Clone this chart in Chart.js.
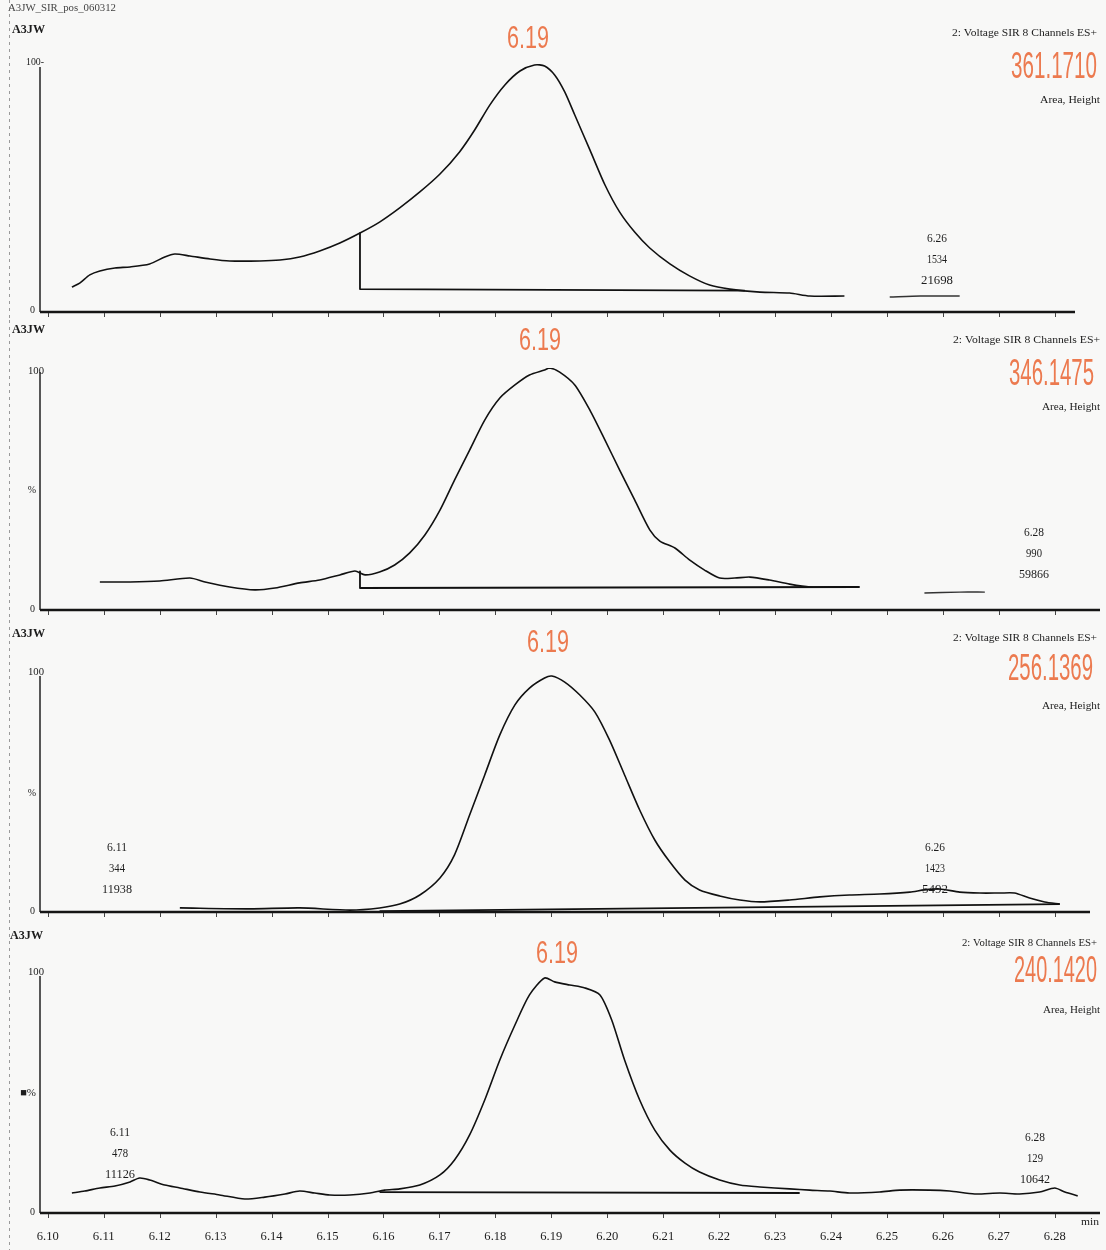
<!DOCTYPE html>
<html><head><meta charset="utf-8">
<script src="https://cdn.jsdelivr.net/npm/chart.js@4.4.1/dist/chart.umd.min.js"></script>
<style>
html,body{margin:0;padding:0;background:#f8f8f7;}
#wrap{position:relative;width:1106px;height:1250px;overflow:hidden;background:#f8f8f7;}
canvas{position:absolute;left:0;}
</style></head><body><div id="wrap">
<canvas id="c1" width="1106" height="322" style="top:0px"></canvas>
<canvas id="c2" width="1106" height="300" style="top:320px"></canvas>
<canvas id="c3" width="1106" height="300" style="top:620px"></canvas>
<canvas id="c4" width="1106" height="330" style="top:920px"></canvas>
</div>
<script>
// ---------- DATA ----------
const xTickLabels = ['6.10','6.11','6.12','6.13','6.14','6.15','6.16','6.17','6.18','6.19','6.20','6.21','6.22','6.23','6.24','6.25','6.26','6.27','6.28'];
const massLabels = ['361.1710','346.1475','256.1369','240.1420'];
const peakLabel = '6.19';
const channelTitle = '2: Voltage SIR 8 Channels ES+';

// Panel 1 : 361.1710
const p1Time = [6.1043,6.1057,6.1075,6.1093,6.1120,6.1147,6.1182,6.1209,6.1227,6.1254,6.1290,6.1325,6.1379,6.1415,6.1450,6.1486,6.1522,6.1558,6.1593,6.1629,6.1665,6.1701,6.1736,6.1763,6.1790,6.1817,6.1844,6.1870,6.1888,6.1906,6.1924,6.1942,6.1969,6.1996,6.2022,6.2049,6.2076,6.2112,6.2147,6.2183,6.2219,6.2273,6.2326,6.2362,6.2424];
const p1Intensity = [10.0,11.6,14.9,16.5,17.7,18.1,19.3,22.1,23.3,22.5,21.3,20.5,20.5,20.9,22.1,24.5,27.7,31.7,36.1,41.8,48.2,55.4,64.3,73.1,83.1,91.2,96.8,99.2,98.8,95.2,88.4,79.1,65.1,51.0,40.2,32.1,25.7,19.3,14.5,10.8,9.2,8.0,7.6,6.4,6.4];
const p1TailTime = [6.2505,6.2560,6.2630];
const p1TailIntensity = [6.0,6.4,6.4];
const p1BaseTime = [6.1558,6.1558,6.2246];
const p1BaseIntensity = [31.7,9.2,8.6];
const p1Peak2 = ['6.26','1534','21698'];

// Panel 2 : 346.1475
const p2Time = [6.1093,6.1147,6.1200,6.1254,6.1281,6.1325,6.1370,6.1406,6.1450,6.1486,6.1522,6.1549,6.1567,6.1593,6.1620,6.1647,6.1674,6.1701,6.1727,6.1754,6.1781,6.1808,6.1835,6.1861,6.1888,6.1897,6.1915,6.1942,6.1969,6.1996,6.2022,6.2049,6.2076,6.2094,6.2121,6.2147,6.2174,6.2201,6.2228,6.2255,6.2290,6.2326,6.2362,6.2416,6.2451];
const p2Intensity = [11.6,11.6,12.0,13.2,11.6,9.5,8.3,9.1,11.2,12.4,14.5,16.1,14.5,15.7,18.6,23.6,31.0,41.3,53.7,66.1,78.5,87.6,93.0,97.1,99.2,100,98.3,93.0,82.6,70.2,57.9,45.5,33.1,28.5,25.6,20.7,16.5,13.2,13.2,13.6,12.4,10.7,9.5,9.5,9.5];
const p2TailTime = [6.2567,6.2630,6.2675];
const p2TailIntensity = [7.0,7.4,7.4];
const p2BaseTime = [6.1558,6.1558,6.2451];
const p2BaseIntensity = [16.0,9.1,9.5];
const p2Peak2 = ['6.28','990','59866'];

// Panel 3 : 256.1369
const p3Time = [6.1236,6.1361,6.1450,6.1540,6.1593,6.1629,6.1665,6.1701,6.1727,6.1754,6.1781,6.1808,6.1835,6.1861,6.1888,6.1901,6.1924,6.1951,6.1978,6.2004,6.2031,6.2058,6.2085,6.2112,6.2139,6.2165,6.2201,6.2237,6.2273,6.2326,6.2380,6.2433,6.2487,6.2541,6.2567,6.2594,6.2630,6.2666,6.2702,6.2728,6.2755,6.2782,6.2809];
const p3Intensity = [1.7,1.3,1.7,0.8,1.7,3.3,7.1,14.2,23.8,40.4,57.1,73.8,86.3,93.3,97.5,98.3,95.8,90.4,83.3,71.7,57.1,42.5,30.0,20.8,13.3,9.2,6.7,5.0,4.2,5.0,6.3,7.1,7.5,8.3,9.2,9.6,8.3,7.9,7.9,7.9,5.8,4.2,3.3];
const p3BaseTime = [6.1593,6.2809];
const p3BaseIntensity = [0.4,3.3];
const p3Peak1 = ['6.11','344','11938'];
const p3Peak2 = ['6.26','1423','5492'];

// Panel 4 : 240.1420
const p4Time = [6.1043,6.1066,6.1093,6.1120,6.1147,6.1164,6.1182,6.1209,6.1236,6.1272,6.1307,6.1352,6.1388,6.1424,6.1450,6.1477,6.1504,6.1540,6.1576,6.1602,6.1629,6.1665,6.1701,6.1727,6.1754,6.1781,6.1808,6.1835,6.1861,6.1888,6.1906,6.1933,6.1960,6.1987,6.2008,6.2031,6.2058,6.2085,6.2112,6.2139,6.2165,6.2201,6.2237,6.2273,6.2326,6.2362,6.2398,6.2433,6.2487,6.2523,6.2576,6.2612,6.2657,6.2702,6.2737,6.2773,6.2800,6.2818,6.2841];
const p4Intensity = [8.3,9.1,10.4,11.2,12.9,14.5,13.7,11.6,10.4,8.7,7.5,5.8,6.6,7.9,9.1,8.3,7.5,7.5,8.3,9.5,10.0,11.6,15.8,22.0,32.4,46.9,63.5,78.0,90.5,97.5,95.9,94.6,93.4,90.5,80.1,63.5,46.9,34.4,26.1,20.7,17.0,13.7,11.6,10.8,10.0,9.5,9.1,8.3,8.7,9.5,9.5,9.1,7.9,8.3,7.9,8.7,10.4,8.7,7.1];
const p4BaseTime = [6.1593,6.2344];
const p4BaseIntensity = [8.7,8.3];
const p4Peak1 = ['6.11','478','11126'];
const p4Peak2 = ['6.28','129','10642'];

// ---------- LAYOUT / STYLE ----------
const X_MIN = 6.0986, X_MAX = 6.2863;
const ORANGE = '#ec7a4f';
const INK = '#1c1c1c';
const SANS = '"Liberation Sans Narrow","Liberation Sans","DejaVu Sans Condensed",sans-serif';
const SERIF = '"Liberation Serif","DejaVu Serif",serif';

function pts(t, v){ return t.map((x,i)=>({x:x, y:v[i]})); }

function txt(text, x, y, o){ return Object.assign({text, x, y, size:11, family:SERIF, color:INK, align:'left'}, o||{}); }

function drawText(ctx, t){
  ctx.save();
  ctx.font = (t.weight||'normal') + ' ' + t.size + 'px ' + t.family;
  ctx.fillStyle = t.color;
  ctx.textBaseline = 'middle';
  ctx.textAlign = t.align;
  const m = ctx.measureText(t.text).width;
  const sx = t.w ? t.w / m : 1;
  ctx.translate(t.x, t.y);
  ctx.scale(sx, 1);
  ctx.fillText(t.text, 0, 0);
  ctx.restore();
}

function peakBlock(lines, cx, y0, widths){
  return lines.map((s,i)=>txt(s, cx, y0 + i*21, {align:'center', w:widths[i], size:12}));
}

const panels = [
  {id:'c1', top:0, padTop:63, padBottom:10, time:p1Time, value:p1Intensity, tailTime:p1TailTime, tailValue:p1TailIntensity,
   baseTime:p1BaseTime, baseValue:p1BaseIntensity, ticks:false, axisEnd:1075,
   texts:[
     txt('A3JW_SIR_pos_060312', 8, 8, {size:10, w:108, color:'#444'}),
     txt('A3JW', 12, 30, {size:13, w:33, weight:'bold'}),
     txt('100-', 44, 62, {size:10, w:18, align:'right'}),
     txt('0', 35, 310, {size:10, align:'right'}),
     txt(peakLabel, 528, 39, {size:32, w:42, family:SANS, color:ORANGE, align:'center'}),
     txt(channelTitle, 1097, 33, {size:11, w:145, align:'right'}),
     txt(massLabels[0], 1097, 68, {size:36, w:86, family:SANS, color:ORANGE, align:'right'}),
     txt('Area, Height', 1100, 100, {size:11, w:60, align:'right'}),
   ].concat(peakBlock(p1Peak2, 937, 239, [20,20,32]))},
  {id:'c2', top:320, padTop:48, padBottom:10, time:p2Time, value:p2Intensity, tailTime:p2TailTime, tailValue:p2TailIntensity,
   baseTime:p2BaseTime, baseValue:p2BaseIntensity, ticks:false, axisEnd:1100,
   texts:[
     txt('A3JW', 12, 330, {size:13, w:33, weight:'bold'}),
     txt('100', 44, 371, {size:10, w:16, align:'right'}),
     txt('%', 36, 490, {size:10, align:'right'}),
     txt('0', 35, 609, {size:10, align:'right'}),
     txt(peakLabel, 540, 341, {size:32, w:42, family:SANS, color:ORANGE, align:'center'}),
     txt(channelTitle, 1100, 340, {size:11, w:147, align:'right'}),
     txt(massLabels[1], 1094, 375, {size:36, w:85, family:SANS, color:ORANGE, align:'right'}),
     txt('Area, Height', 1100, 407, {size:11, w:58, align:'right'}),
   ].concat(peakBlock(p2Peak2, 1034, 533, [20,16,30]))},
  {id:'c3', top:620, padTop:52, padBottom:8, time:p3Time, value:p3Intensity,
   baseTime:p3BaseTime, baseValue:p3BaseIntensity, ticks:false, axisEnd:1090,
   texts:[
     txt('A3JW', 12, 634, {size:13, w:33, weight:'bold'}),
     txt('100', 44, 672, {size:10, w:16, align:'right'}),
     txt('%', 36, 793, {size:10, align:'right'}),
     txt('0', 35, 911, {size:10, align:'right'}),
     txt(peakLabel, 548, 643, {size:32, w:42, family:SANS, color:ORANGE, align:'center'}),
     txt(channelTitle, 1097, 638, {size:11, w:144, align:'right'}),
     txt(massLabels[2], 1093, 670, {size:36, w:85, family:SANS, color:ORANGE, align:'right'}),
     txt('Area, Height', 1100, 706, {size:11, w:58, align:'right'}),
   ].concat(peakBlock(p3Peak1, 117, 848, [20,16,30])).concat(peakBlock(p3Peak2, 935, 848, [20,20,26]))},
  {id:'c4', top:920, padTop:52, padBottom:37, time:p4Time, value:p4Intensity,
   baseTime:p4BaseTime, baseValue:p4BaseIntensity, ticks:true, axisEnd:1100,
   texts:[
     txt('A3JW', 10, 936, {size:13, w:33, weight:'bold'}),
     txt('100', 44, 972, {size:10, w:16, align:'right'}),
     txt('■%', 36, 1093, {size:11, align:'right'}),
     txt('0', 35, 1212, {size:10, align:'right'}),
     txt(peakLabel, 557, 954, {size:32, w:42, family:SANS, color:ORANGE, align:'center'}),
     txt(channelTitle, 1097, 943, {size:11, w:135, align:'right'}),
     txt(massLabels[3], 1097, 972, {size:36, w:83, family:SANS, color:ORANGE, align:'right'}),
     txt('Area, Height', 1100, 1010, {size:11, w:57, align:'right'}),
     txt('min', 1090, 1222, {size:11, w:18, align:'center'}),
   ].concat(peakBlock(p4Peak1, 120, 1133, [20,16,30])).concat(peakBlock(p4Peak2, 1035, 1138, [20,16,30]))}
];

const decorPlugin = {
  id:'decor',
  afterDraw(chart, args, opts){
    const p = opts.panel;
    const ctx = chart.ctx;
    const ca = chart.chartArea;
    const xs = chart.scales.x;
    ctx.save();
    // scan border at left
    ctx.strokeStyle = '#9a9a9a'; ctx.lineWidth = 1; ctx.setLineDash([3,4]);
    ctx.beginPath(); ctx.moveTo(9.5, 0); ctx.lineTo(9.5, chart.height); ctx.stroke();
    ctx.setLineDash([]);
    // y axis
    ctx.strokeStyle = '#222'; ctx.lineWidth = 1.5;
    ctx.beginPath(); ctx.moveTo(ca.left, ca.top + 4); ctx.lineTo(ca.left, ca.bottom); ctx.stroke();
    // x axis line
    ctx.lineWidth = 2.5; ctx.strokeStyle = '#151515';
    ctx.beginPath(); ctx.moveTo(ca.left, ca.bottom); ctx.lineTo(p.axisEnd, ca.bottom); ctx.stroke();
    // tick marks
    ctx.lineWidth = 1; ctx.strokeStyle = '#444';
    xTickLabels.forEach(l=>{
      const px = Math.round(xs.getPixelForValue(parseFloat(l))) + 0.5;
      ctx.beginPath(); ctx.moveTo(px, ca.bottom + 1); ctx.lineTo(px, ca.bottom + 5); ctx.stroke();
    });
    if (p.ticks){
      xTickLabels.forEach(l=>{
        drawText(ctx, txt(l, xs.getPixelForValue(parseFloat(l)), ca.bottom + 24, {size:13, w:22, align:'center'}));
      });
    }
    p.texts.forEach(t=>{
      drawText(ctx, Object.assign({}, t, {y: t.y - p.top}));
    });
    ctx.restore();
  }
};

panels.forEach(p=>{
  const ds = [
    {data: pts(p.time, p.value), borderColor:'#111', borderWidth:1.6},
    {data: pts(p.baseTime, p.baseValue), borderColor:'#111', borderWidth:1.8}
  ];
  if (p.tailTime) ds.push({data: pts(p.tailTime, p.tailValue), borderColor:'#333', borderWidth:1.4});
  ds.forEach(d=>{ d.pointRadius = 0; d.fill = false; d.tension = 0.25; d.borderJoinStyle = 'round'; });
  ds[1].tension = 0;
  new Chart(document.getElementById(p.id), {
    type:'line',
    data:{datasets: ds},
    options:{
      responsive:false, animation:false, devicePixelRatio:1,
      layout:{padding:{left:40, right:16, top:p.padTop, bottom:p.padBottom}},
      scales:{
        x:{type:'linear', min:X_MIN, max:X_MAX, display:false},
        y:{min:0, max:100, display:false}
      },
      plugins:{legend:{display:false}, tooltip:{enabled:false}, decor:{panel:p}}
    },
    plugins:[decorPlugin]
  });
});
</script>
</body></html>
